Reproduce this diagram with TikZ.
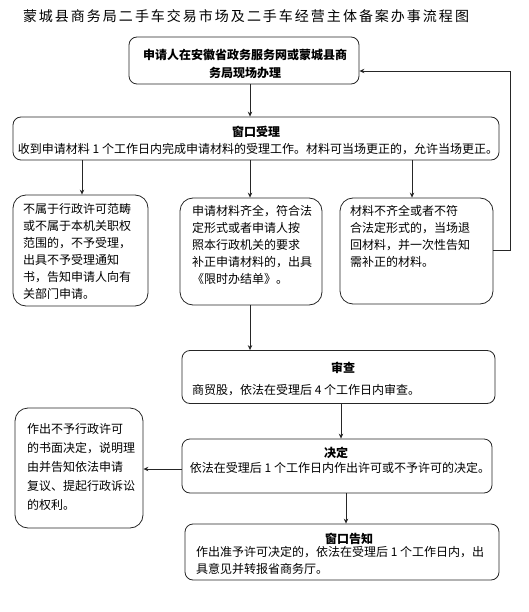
\documentclass[tikz,border=0pt]{standalone}
\usepackage{fontspec}
\setmainfont{Noto Sans CJK SC}
\usetikzlibrary{arrows.meta}
\newcommand\tk{\kern2pt}
\tikzset{
  box/.style={draw=black!85, line width=0.8pt, rounded corners=8pt, inner sep=0pt},
  tbox/.style={box, rounded corners=13pt},
  txt/.style={inner sep=0pt, font=\fontsize{12}{17}\selectfont, text=black},
  hd/.style={inner sep=0pt, font=\fontsize{12}{14}\selectfont\bfseries, text=black},
  arr/.style={draw=black!85, line width=0.8pt, -{Stealth[length=5pt,width=4.5pt]}}
}
\begin{document}
\begin{tikzpicture}[x=1pt,y=-1pt]
\useasboundingbox (0,0) rectangle (529,612);
% title
\node[inner sep=0pt, anchor=center, font=\fontsize{14}{16}\selectfont] (title) at (246,16) {蒙\tk 城\tk 县\tk 商\tk 务\tk 局\tk 二\tk 手\tk 车\tk 交\tk 易\tk 市\tk 场\tk 及\tk 二\tk 手\tk 车\tk 经\tk 营\tk 主\tk 体\tk 备\tk 案\tk 办\tk 事\tk 流\tk 程\tk 图};
% boxes
\node[box, minimum width=230pt, minimum height=47pt] (b1) at (244,60.5) {};
\node[box, minimum width=486pt, minimum height=43pt] (b2) at (256,138.5) {};
\node[tbox, minimum width=135pt, minimum height=111pt] (b3) at (80.5,250.5) {};
\node[tbox, minimum width=142pt, minimum height=107pt] (b4) at (251,251.5) {};
\node[tbox, minimum width=153pt, minimum height=106pt] (b5) at (416.5,251) {};
\node[box, minimum width=313pt, minimum height=53pt] (b6) at (338.5,377) {};
\node[box, minimum width=310pt, minimum height=54pt] (b7) at (337,466) {};
\node[tbox, minimum width=128pt, minimum height=120pt] (b8) at (79,468) {};
\node[box, minimum width=314pt, minimum height=56pt] (b9) at (342,552) {};
% texts
\node[hd, align=center, font=\fontsize{12}{18}\selectfont\bfseries] (t1) at (245,64) {申请人在安徽省政务服务网或蒙城县商\\务局现场办理};
\node[hd] (h2) at (256,132) {窗口受理};
\node[txt] (t2) at (258,149) {收到申请材料 1 个工作日内完成申请材料的受理工作。材料可当场更正的，允许当场更正。};
\node[txt, anchor=north west, align=left] (t3) at (23,203) {不属于行政许可范畴\\或不属于本机关职权\\范围的，不予受理，\\出具不予受理通知\\书，告知申请人向有\\关部门申请。};
\node[txt, anchor=north west, align=left] (t4) at (192,205) {申请材料齐全，符合法\\定形式或者申请人按\\照本行政机关的要求\\补正申请材料的，出具\\《限时办结单》。};
\node[txt, anchor=north west, align=left] (t5) at (350,205) {材料不齐全或者不符\\合法定形式的，当场退\\回材料，并一次性告知\\需补正的材料。};
\node[hd] (h6) at (343,368) {审查};
\node[txt, anchor=west] (t6) at (192,390) {商贸股，依法在受理后 4 个工作日内审查。};
\node[hd] (h7) at (336,453) {决定};
\node[txt] (t7) at (340,468) {依法在受理后 1 个工作日内作出许可或不予许可的决定。};
\node[txt, anchor=north west, align=left, font=\fontsize{12}{19}\selectfont] (t8) at (27,423) {作出不予行政许可\\的书面决定，说明理\\由并告知依法申请\\复议、提起行政诉讼\\的权利。};
\node[hd] (h9) at (349,539) {窗口告知};
\node[txt, anchor=north west, align=left] (t9) at (196,546) {作出准予许可决定的，依法在受理后 1 个工作日内，出\\具意见并转报省商务厅。};
% helper coordinates
\coordinate (c250) at (250,0);
\coordinate (c82) at (82,0);
\coordinate (c412) at (412,0);
\coordinate (c341) at (341,0);
\coordinate (c346) at (346,0);
\coordinate (fy) at (0,250);
\coordinate (ry) at (0,71);
\coordinate (fr) at (510,0);
\coordinate (yl) at (0,469);
% connectors
\draw[arr] (b1.south -| c250) -- (b2.north -| c250);
\draw[arr] (b2.south -| c82) -- (b3.north -| c82);
\draw[arr] (b2.south -| c250) -- (b4.north -| c250);
\draw[arr] (b2.south -| c412) -- (b5.north -| c412);
\draw[arr] (b4.south -| c250) -- (b6.north -| c250);
\draw[arr] (b6.south -| c341) -- (b7.north -| c341);
\draw[arr] (b7.west |- yl) -- (b8.east |- yl);
\draw[arr] (b7.south -| c346) -- (b9.north -| c346);
\draw[arr] (b5.east |- fy) -- (fr |- fy) -- (fr |- ry) -- (b1.east |- ry);
\end{tikzpicture}
\end{document}
